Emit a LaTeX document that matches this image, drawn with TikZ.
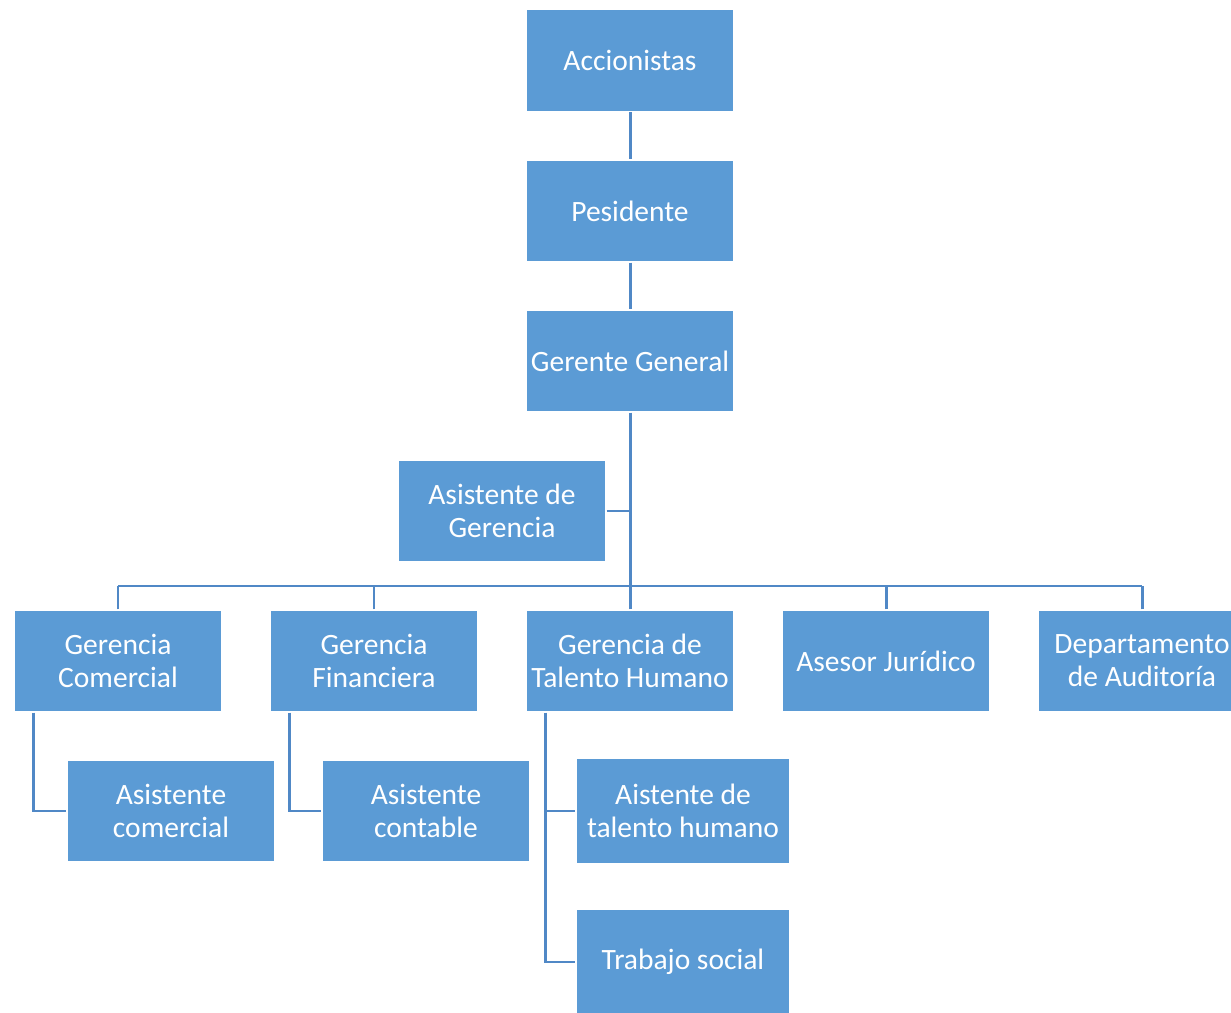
\documentclass[tikz,border=0pt]{standalone}
\usepackage{fontspec}
\setmainfont{Carlito}
\definecolor{azulcaja}{HTML}{5B9BD5}
\definecolor{azullinea}{HTML}{5088C6}

\begin{document}
\begin{tikzpicture}[x=0.02cm, y=-0.02cm, line width=1.7pt, color=azullinea,
        caja/.style={fill=azulcaja, draw=white, line width=0.8pt, text=white,
            minimum width=4.16cm, minimum height=2.04cm, inner sep=0pt,
            align=center, font=\fontsize{16.8}{18.8}\selectfont},
        cajasub/.style={caja, minimum width=4.28cm, minimum height=2.12cm}]
        \useasboundingbox (0, 0) rectangle (1231, 1013);
        \clip (0, 0) rectangle (1231, 1013);
        % cabeza
        \node[caja] (acc) at (630, 60.5) {Accionistas};
        \node[caja] (pres) at (630, 211) {Pesidente};
        \node[caja] (ger) at (630, 361) {Gerente General};
        \node[caja] (asg) at (502, 511) {Asistente de\\Gerencia};
        \coordinate (bus) at (630, 586);
        % gerencias
        \foreach \x/\n/\t in {118/gc/{Gerencia\\Comercial}, 374/gf/{Gerencia\\Financiera},
                630/gth/{Gerencia de\\Talento Humano}, 886/aj/{Asesor Jurídico},
                1142/dep/{Departamento\\de Auditoría}}{
            \node[caja] (\n) at (\x, 661) {\t};
            \draw (\n.north) -- (\n.north |- bus);
        }
        % asistentes
        \node[caja] (asc) at (171, 811) {Asistente\\comercial};
        \node[caja] (asct) at (426, 811) {Asistente\\contable};
        \node[cajasub] (ath) at (683, 811) {Aistente de\\talento humano};
        \node[cajasub] (ts) at (683, 962) {Trabajo social};
        \draw (acc) -- (pres);
        \draw (pres) -- (ger);
        \draw (ger.south) -- (bus);
        \draw (gc.north |- bus) -- (dep.north |- bus);
        \draw (asg.east) -- (asg.east -| ger.south);
        \draw ([xshift=0.4cm]gc.south west) |- (asc.west);
        \draw ([xshift=0.4cm]gf.south west) |- (asct.west);
        \draw ([xshift=0.4cm]gth.south west) |- (ts.west);
        \draw ([xshift=0.4cm]gth.south west |- ath.west) -- (ath.west);
    \end{tikzpicture}
\end{document}
